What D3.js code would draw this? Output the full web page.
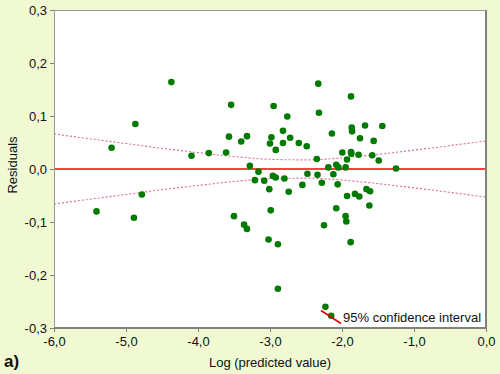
<!DOCTYPE html>
<html><head><meta charset="utf-8">
<script src="https://cdn.jsdelivr.net/npm/d3@7"></script>
<style>
html,body{margin:0;padding:0;background:#f0f9d2;}
svg{display:block;font-family:"Liberation Sans",Arial,sans-serif;}
</style></head>
<body><svg id="chart" width="500" height="374"></svg>
<script>
// ---- data ----
const xTicks = [-6, -5, -4, -3, -2, -1, 0];
const yTicks = [-0.3, -0.2, -0.1, 0.0, 0.1, 0.2, 0.3];
const xVals = [-5.41,-5.20,-4.89,-4.87,-4.78,-4.37,-4.09,-3.85,-3.61,-3.57,-3.54,-3.50,-3.40,-3.36,-3.32,-3.32,-3.28,-3.21,-3.16,-3.08,
  -3.02,-3.01,-3.00,-2.99,-2.98,-2.96,-2.95,-2.92,-2.92,-2.89,-2.89,-2.82,-2.82,-2.80,-2.76,-2.74,-2.72,-2.60,-2.55,-2.49,
  -2.48,-2.35,-2.34,-2.33,-2.32,-2.28,-2.25,-2.23,-2.19,-2.15,-2.14,-2.12,-2.08,-2.08,-2.06,-2.05,-1.995,-1.95,-1.95,-1.94,
  -1.93,-1.93,-1.88,-1.875,-1.875,-1.87,-1.865,-1.86,-1.82,-1.77,-1.76,-1.75,-1.68,-1.66,-1.62,-1.61,-1.58,-1.56,-1.49,-1.44,-1.25];
const yVals = [-0.080,0.040,-0.092,0.085,-0.048,0.164,0.025,0.030,0.031,0.061,0.121,-0.089,0.052,-0.105,0.062,-0.113,0.006,-0.021,-0.005,-0.022,
  -0.133,-0.038,0.048,-0.078,0.060,-0.013,0.119,0.036,-0.016,-0.142,-0.226,0.072,0.049,-0.018,0.099,-0.043,0.059,0.049,-0.030,0.043,
  -0.009,0.019,-0.011,0.161,0.106,-0.026,-0.106,-0.260,0.003,-0.277,0.067,-0.010,0.008,-0.074,-0.029,0.003,0.031,0.003,-0.089,-0.099,
  0.018,-0.051,-0.138,0.137,0.032,0.029,0.078,0.071,-0.047,0.027,-0.052,0.058,0.082,-0.038,-0.069,-0.042,0.026,0.053,0.016,0.081,0.001];
const ciX = [-6,-5.5,-5,-4.5,-4,-3.5,-3,-2.5,-2,-1.5,-1,-0.5,0];
const ciUpper = [0.066,0.057,0.048,0.039,0.031,0.0235,0.0183,0.0172,0.0209,0.0276,0.0356,0.0441,0.053];
const ciLower = [-0.066,-0.057,-0.048,-0.039,-0.031,-0.0235,-0.0183,-0.0172,-0.0209,-0.0276,-0.0356,-0.0441,-0.053];
const xTitle = "Log (predicted value)";
const yTitle = "Residuals";
const legendLabel = "95% confidence interval";
const panelLabel = "a)";

// ---- drawing ----
const svg = d3.select("#chart");
const L = 54, R = 486, T = 10, B = 328;
const x = d3.scaleLinear().domain([-6, 0]).range([L, R]);
const y = d3.scaleLinear().domain([-0.3, 0.3]).range([B, T]);
const fmt = d => d3.format(".1f")(d).replace(".", ",").replace("−", "-");

svg.append("rect").attr("x", L).attr("y", T).attr("width", R - L).attr("height", B - T).attr("fill", "#fff");

// axes
const gx = svg.append("g").attr("transform", `translate(0,${B})`)
  .call(d3.axisBottom(x).tickValues(xTicks).tickSize(4).tickPadding(5).tickFormat(fmt));
const gy = svg.append("g").attr("transform", `translate(${L},0)`)
  .call(d3.axisLeft(y).tickValues(yTicks).tickSize(4).tickPadding(3).tickFormat(fmt));
[gx, gy].forEach(g => {
  g.select(".domain").remove();
  g.selectAll(".tick line").attr("stroke", "#808080");
  g.selectAll(".tick text").attr("fill", "#111").style("font-size", "13px")
    .style("font-family", '"Liberation Sans",Arial,sans-serif');
});

// CI lines
const ln = d3.line().curve(d3.curveMonotoneX);
[ciUpper, ciLower].forEach(arr => {
  svg.append("path")
    .attr("d", ln(ciX.map((v, i) => [x(v), y(arr[i])])))
    .attr("fill", "none").attr("stroke", "#d4708c").attr("stroke-width", 1.1)
    .attr("stroke-dasharray", "2,2");
});

// zero line
svg.append("line").attr("x1", L).attr("x2", R).attr("y1", y(0)).attr("y2", y(0))
  .attr("stroke", "#ff0000").attr("stroke-width", 1.6);

// points
svg.append("g").selectAll("circle").data(xVals).join("circle")
  .attr("cx", (d) => x(d)).attr("cy", (d, i) => y(yVals[i])).attr("r", 3.3)
  .attr("fill", "#007a00");

// frame
svg.append("line").attr("x1", L).attr("x2", R).attr("y1", T + 0.5).attr("y2", T + 0.5).attr("stroke", "#999").attr("stroke-width", 1);
svg.append("line").attr("x1", L + 0.5).attr("x2", L + 0.5).attr("y1", T).attr("y2", B).attr("stroke", "#999").attr("stroke-width", 1);
svg.append("line").attr("x1", R).attr("x2", R).attr("y1", T).attr("y2", B + 1).attr("stroke", "#808080").attr("stroke-width", 2);
svg.append("line").attr("x1", L).attr("x2", R + 1).attr("y1", B).attr("y2", B).attr("stroke", "#808080").attr("stroke-width", 2);

// legend
svg.append("line").attr("x1", 321).attr("y1", 310.5).attr("x2", 341).attr("y2", 323.5)
  .attr("stroke", "#e00000").attr("stroke-width", 1.6);
svg.append("text").attr("x", 343).attr("y", 321.5).style("font-size", "13px").attr("fill", "#111").text(legendLabel);

// titles
svg.append("text").attr("x", 270).attr("y", 367).attr("text-anchor", "middle")
  .style("font-size", "13px").attr("fill", "#111").text(xTitle);
svg.append("text").attr("transform", "translate(17,165) rotate(-90)").attr("text-anchor", "middle")
  .style("font-size", "13px").attr("fill", "#111").text(yTitle);
svg.append("text").attr("x", 4).attr("y", 367).style("font-size", "17px").style("font-weight", "bold")
  .attr("fill", "#111").text(panelLabel);
</script></body></html>
